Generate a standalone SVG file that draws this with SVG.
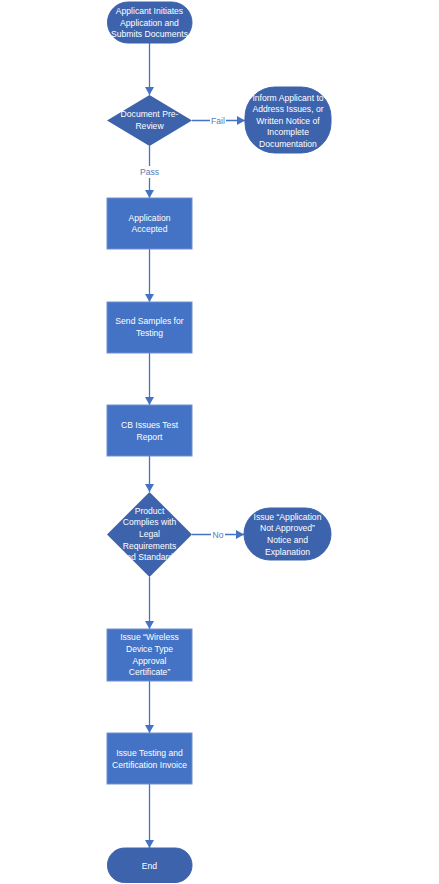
<svg xmlns="http://www.w3.org/2000/svg" width="439" height="884" viewBox="0 0 439 884">
<style>
.term{fill:#3d63ad;stroke:#3d63ad;stroke-width:1}
.proc{fill:#4472c4;stroke:#6e8fd0;stroke-width:1}
.dec{fill:#3d63ad}
.t{font-family:"Liberation Sans",Arial,sans-serif;font-size:8.6px;fill:#ffffff;text-anchor:middle;dominant-baseline:central}
.lbl{font-family:"Liberation Sans",Arial,sans-serif;font-size:8.6px;fill:#5a78b8;text-anchor:middle;dominant-baseline:central}
.ln{stroke:#4472c4;stroke-width:1.3;fill:none;marker-end:url(#ah)}
.bg{fill:#ffffff}
</style>
<defs>
<marker id="ah" markerUnits="userSpaceOnUse" markerWidth="9" markerHeight="9" refX="8" refY="4.5" orient="auto">
<path d="M0,0 L8,4.5 L0,9 z" fill="#4472c4"/>
</marker>
<clipPath id="c2"><polygon points="149.5,492 192,534.5 149.5,577 107,534.5"/></clipPath>
</defs>
<rect width="439" height="884" fill="#ffffff"/>
<g id="connectors">
<line class="ln" x1="149.5" y1="43" x2="149.5" y2="95"/>
<line class="ln" x1="192" y1="120.5" x2="245" y2="120.5"/>
<rect class="bg" x="210" y="115" width="16" height="11"/>
<text class="lbl" x="218" y="120.5">Fail</text>
<line class="ln" x1="149.5" y1="146" x2="149.5" y2="198"/>
<rect class="bg" x="139" y="166" width="21" height="12"/>
<text class="lbl" x="149.5" y="172">Pass</text>
<line class="ln" x1="149.5" y1="249" x2="149.5" y2="302"/>
<line class="ln" x1="149.5" y1="353" x2="149.5" y2="405"/>
<line class="ln" x1="149.5" y1="456" x2="149.5" y2="492"/>
<line class="ln" x1="192" y1="534.5" x2="244" y2="534.5"/>
<rect class="bg" x="211" y="529" width="14" height="11"/>
<text class="lbl" x="218" y="534.5">No</text>
<line class="ln" x1="149.5" y1="577" x2="149.5" y2="629"/>
<line class="ln" x1="149.5" y1="681" x2="149.5" y2="733"/>
<line class="ln" x1="149.5" y1="784" x2="149.5" y2="848"/>
</g>
<g id="start">
<rect class="term" x="107.5" y="2" width="84.5" height="41" rx="20.5"/>
<text class="t" x="149.5" y="11.3">Applicant Initiates</text>
<text class="t" x="149.5" y="22.5">Application and</text>
<text class="t" x="149.5" y="33.5">Submits Documents</text>
</g>
<g id="prereview">
<polygon class="dec" points="149.5,95 192,120.5 149.5,146 107,120.5"/>
<text class="t" x="149.5" y="114">Document Pre-</text>
<text class="t" x="149.5" y="126">Review</text>
</g>
<g id="inform">
<rect class="term" x="245" y="87" width="86" height="66" rx="30"/>
<text class="t" x="288" y="97.5">Inform Applicant to</text>
<text class="t" x="288" y="109">Address Issues, or</text>
<text class="t" x="288" y="120.5">Written Notice of</text>
<text class="t" x="288" y="132">Incomplete</text>
<text class="t" x="288" y="143.5">Documentation</text>
</g>
<g id="accepted">
<rect class="proc" x="107" y="198" width="85" height="51"/>
<text class="t" x="149.5" y="217.7">Application</text>
<text class="t" x="149.5" y="229.3">Accepted</text>
</g>
<g id="samples">
<rect class="proc" x="107" y="302" width="85" height="51"/>
<text class="t" x="149.5" y="321">Send Samples for</text>
<text class="t" x="149.5" y="332.7">Testing</text>
</g>
<g id="report">
<rect class="proc" x="107" y="405" width="85" height="51"/>
<text class="t" x="149.5" y="425">CB Issues Test</text>
<text class="t" x="149.5" y="436.7">Report</text>
</g>
<g id="complies">
<polygon class="dec" points="149.5,492 192,534.5 149.5,577 107,534.5"/>
<g clip-path="url(#c2)">
<text class="t" x="149.5" y="510.7">Product</text>
<text class="t" x="149.5" y="522.3">Complies with</text>
<text class="t" x="149.5" y="534">Legal</text>
<text class="t" x="149.5" y="545.7">Requirements</text>
<text class="t" x="149.5" y="557.2">and Standards</text>
</g>
</g>
<g id="notapproved">
<rect class="term" x="244" y="508" width="87" height="52" rx="26"/>
<text class="t" x="287.5" y="516.7">Issue “Application</text>
<text class="t" x="287.5" y="528.3">Not Approved”</text>
<text class="t" x="287.5" y="540">Notice and</text>
<text class="t" x="287.5" y="551.7">Explanation</text>
</g>
<g id="certificate">
<rect class="proc" x="107" y="629" width="85" height="52"/>
<text class="t" x="149.5" y="637.3">Issue “Wireless</text>
<text class="t" x="149.5" y="649">Device Type</text>
<text class="t" x="149.5" y="660.7">Approval</text>
<text class="t" x="149.5" y="672.3">Certificate”</text>
</g>
<g id="invoice">
<rect class="proc" x="107" y="733" width="85" height="51"/>
<text class="t" x="149.5" y="752.7">Issue Testing and</text>
<text class="t" x="149.5" y="764.5">Certification Invoice</text>
</g>
<g id="end">
<rect class="term" x="107.5" y="848" width="84.5" height="34.5" rx="17"/>
<text class="t" x="149.5" y="865.5">End</text>
</g>
</svg>
